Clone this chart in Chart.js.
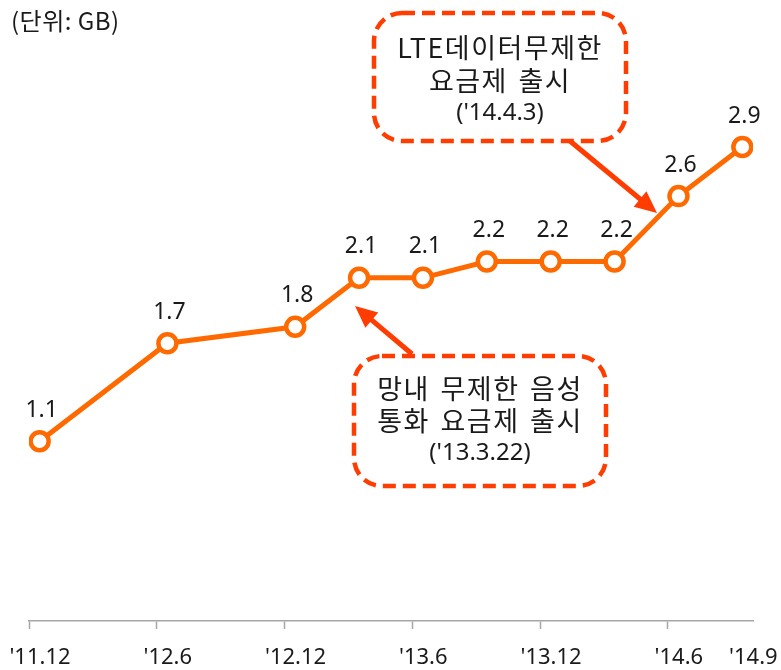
<!DOCTYPE html>
<html>
<head>
<meta charset="utf-8">
<script src="https://cdn.jsdelivr.net/npm/chart.js@4.4.1/dist/chart.umd.min.js"></script>
<style>
  html,body{margin:0;padding:0;background:#fff}
  #wrap{position:relative;width:781px;height:670px}
</style>
</head>
<body>
<div id="wrap"><canvas id="usage" width="781" height="670"></canvas></div>
<script>
// months counted from Dec 2011
const months   = [0, 6, 12, 15, 18, 21, 24, 27, 30, 33];
const usageGB  = [1.1, 1.7, 1.8, 2.1, 2.1, 2.2, 2.2, 2.2, 2.6, 2.9];
const tickVals = [-0.5, 5.5, 11.5, 17.5, 23.5, 29.5, 33];
const tickLabels = ["'11.12", "'12.6", "'12.12", "'13.6", "'13.12", "'14.6", "'14.9"];
const unitText = '(단위: GB)';

const LINE = '#ff6a00', NOTE = '#ff3d00', AXIS = '#a6a6a6', TEXT = '#1a1a1a';
const KR = '"Noto Sans CJK KR", "Noto Sans", sans-serif';

// callout boxes (layout only)
const callouts = [
  { x: 374, y: 13, w: 252, h: 128, lines: ['LTE데이터무제한', '요금제 출시', "('14.4.3)"], ly: [48, 81, 113], arrow: [570, 141, 657, 213] },
  { x: 354, y: 356, w: 252, h: 130, lines: ['망내 무제한 음성', '통화 요금제 출시', "('13.3.22)"], ly: [389, 421, 453], arrow: [412, 354, 355, 306] }
];

function arrow(ctx, x1, y1, x2, y2){
  const a = Math.atan2(y2 - y1, x2 - x1), len = 22, hw = 10;
  const bx = x2 - Math.cos(a) * len, by = y2 - Math.sin(a) * len;
  ctx.beginPath(); ctx.moveTo(x1, y1); ctx.lineTo(bx + Math.cos(a)*2, by + Math.sin(a)*2); ctx.stroke();
  ctx.beginPath();
  ctx.moveTo(x2, y2);
  ctx.lineTo(bx - Math.sin(a) * hw, by + Math.cos(a) * hw);
  ctx.lineTo(bx + Math.sin(a) * hw, by - Math.cos(a) * hw);
  ctx.closePath(); ctx.fill();
}

const extras = {
  id: 'extras',
  afterDatasetsDraw(chart){
    const ctx = chart.ctx;
    const meta = chart.getDatasetMeta(0);
    ctx.save();
    ctx.fillStyle = TEXT; ctx.textAlign = 'center'; ctx.textBaseline = 'middle';
    ctx.font = '23px "Noto Sans"';
    meta.data.forEach((pt, i) => ctx.fillText(usageGB[i].toFixed(1), pt.x + 2, pt.y - 31));

    ctx.textAlign = 'left';
    ctx.font = '24px ' + KR;
    ctx.letterSpacing = '0.5px';
    ctx.fillText(unitText, 11, 21);

    callouts.forEach(c => {
      ctx.strokeStyle = NOTE; ctx.fillStyle = NOTE;
      ctx.lineWidth = 4.5; ctx.setLineDash([13, 7]);
      ctx.beginPath(); ctx.roundRect(c.x, c.y, c.w, c.h, 28); ctx.stroke();
      ctx.setLineDash([]); ctx.lineWidth = 5;
      arrow(ctx, ...c.arrow);
      ctx.fillStyle = TEXT; ctx.textAlign = 'center';
      c.lines.forEach((t, i) => {
        const last = i === c.lines.length - 1;
        ctx.font = last ? '24px "Noto Sans"' : '27px ' + KR;
        ctx.letterSpacing = last ? '0px' : '1.5px';
        ctx.wordSpacing = last ? '0px' : '3px';
        ctx.fillText(t, c.x + c.w / 2, c.ly[i]);
      });
    });
    ctx.restore();
  }
};

new Chart(document.getElementById('usage').getContext('2d'), {
  type: 'line',
  data: {
    datasets: [{
      data: months.map((m, i) => ({ x: m, y: usageGB[i] })),
      borderColor: LINE, borderWidth: 5, tension: 0,
      pointRadius: 9, pointBorderWidth: 4.5, pointBorderColor: LINE, pointBackgroundColor: '#fff'
    }]
  },
  options: {
    responsive: false, animation: false,
    layout: { autoPadding: false, padding: { left: 29, right: 28, top: 0, bottom: 0 } },
    plugins: { legend: { display: false }, tooltip: { enabled: false } },
    scales: {
      x: {
        type: 'linear', min: -0.5, max: 33.5,
        afterBuildTicks: s => { s.ticks = tickVals.map(v => ({ value: v })); },
        afterFit: s => { s.paddingLeft = 0; s.paddingRight = 0; s.height = 49; },
        border: { color: AXIS, width: 1.5 },
        grid: { drawOnChartArea: false, tickLength: 8, tickWidth: 1.5,
                tickColor: c => c.index === tickVals.length - 1 ? 'rgba(0,0,0,0)' : AXIS },
        ticks: { autoSkip: false, maxRotation: 0, padding: 16, labelOffset: 11, color: TEXT,
                 font: { family: 'Noto Sans', size: 22 }, callback: (v, i) => tickLabels[i] }
      },
      y: { display: false, min: 0, max: 3.8 }
    }
  },
  plugins: [extras]
});
</script>
</body>
</html>
